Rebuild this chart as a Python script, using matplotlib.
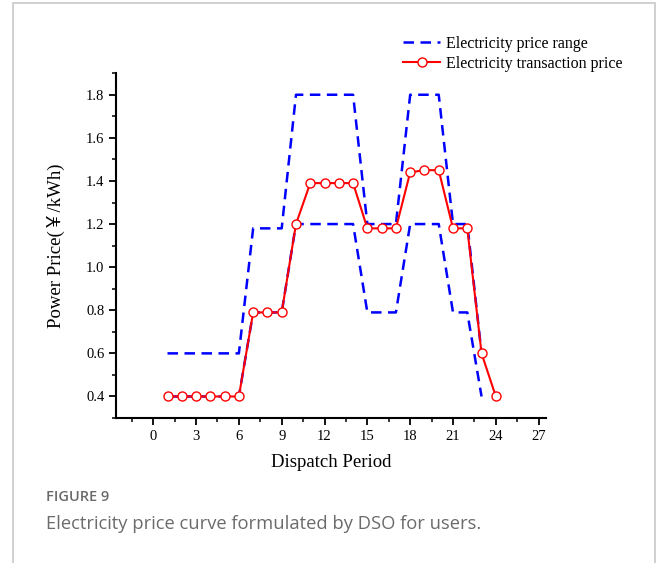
import numpy as np
import matplotlib
matplotlib.use("Agg")
import matplotlib.pyplot as plt
from matplotlib.ticker import MultipleLocator, FormatStrFormatter
from matplotlib.patches import Rectangle

# -------------------- Data --------------------
hours = list(range(1, 25))
trade_price = [0.40, 0.40, 0.40, 0.40, 0.40, 0.40, 0.79, 0.79, 0.79, 1.20,
               1.39, 1.39, 1.39, 1.39, 1.18, 1.18, 1.18, 1.44, 1.45, 1.45,
               1.18, 1.18, 0.60, 0.40]
range_hours = list(range(1, 24))
upper_price = [0.60, 0.60, 0.60, 0.60, 0.60, 0.60, 1.18, 1.18, 1.18, 1.80,
               1.80, 1.80, 1.80, 1.80, 1.20, 1.20, 1.20, 1.80, 1.80, 1.80,
               1.20, 1.20, 0.60]
lower_price = [0.40, 0.40, 0.40, 0.40, 0.40, 0.40, 0.79, 0.79, 0.79, 1.20,
               1.20, 1.20, 1.20, 1.20, 0.79, 0.79, 0.79, 1.20, 1.20, 1.20,
               0.79, 0.79, 0.40]

serif = ["Liberation Serif", "Noto Sans CJK SC", "DejaVu Sans"]
plt.rcParams["font.family"] = serif

fig = plt.figure(figsize=(6.56, 5.63), dpi=100)
ax = fig.add_axes([0.177, 0.2575, 0.655, 0.6125])

dash = (4.2, 2.6)
ax.plot(range_hours, upper_price, color="#0000ff", lw=1.8, dashes=dash,
        label="Electricity price range")
ax.plot(range_hours, lower_price, color="#0000ff", lw=1.8, dashes=dash)
ax.plot(hours, trade_price, color="#ff0000", lw=1.5, marker="o", ms=6.5,
        mfc="white", mec="#ff0000", mew=1.0,
        label="Electricity transaction price")

ax.set_xlim(-2.6, 27.5)
ax.set_ylim(0.3, 1.9)
ax.xaxis.set_major_locator(MultipleLocator(3))
ax.xaxis.set_minor_locator(MultipleLocator(1.5))
ax.yaxis.set_major_locator(MultipleLocator(0.2))
ax.yaxis.set_minor_locator(MultipleLocator(0.1))
ax.set_xticks(range(0, 28, 3))
ax.set_yticks(np.round(np.arange(0.4, 1.81, 0.2), 1))
ax.yaxis.set_major_formatter(FormatStrFormatter("%.1f"))

for s in ("top", "right"):
    ax.spines[s].set_visible(False)
for s in ("left", "bottom"):
    ax.spines[s].set_linewidth(1.5)
ax.tick_params(which="major", direction="out", length=5, width=1.3, labelsize=10.5)
ax.tick_params(which="minor", direction="out", length=3, width=1.1)

ax.set_xlabel("Dispatch Period", fontsize=13.5, labelpad=8)
ax.set_ylabel("Power Price(￥/kWh)", fontsize=13.5, labelpad=14)

fig.legend(loc="upper left", bbox_to_anchor=(0.605, 0.948), frameon=False,
           fontsize=11.5, handlelength=2.3, handletextpad=0.4,
           labelspacing=0.25, borderaxespad=0)

# caption panel
fig.patches.append(Rectangle((13 / 656, -0.05), (655 - 13) / 656, 1.05 - 3 / 563,
                             transform=fig.transFigure, fill=False,
                             edgecolor="#c8c8c8", lw=1.2))
fig.text(46 / 656, 1 - 497 / 563, "FIGURE 9", family="Open Sans",
         fontsize=10.5, fontweight="semibold", color="#6b6b6b", va="center")
fig.text(46 / 656, 1 - 524 / 563,
         "Electricity price curve formulated by DSO for users.",
         family="Open Sans", fontsize=13.2, color="#6b6b6b", va="center")

fig.savefig("out.png", dpi=100)
